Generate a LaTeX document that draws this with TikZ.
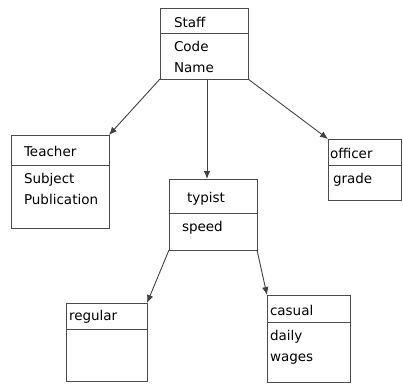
\documentclass[tikz,border=0pt]{standalone}
\usepackage{fontspec}
\setmainfont{DejaVu Sans}
\usetikzlibrary{arrows,arrows.meta,positioning}
\tikzset{font=\fontsize{13.5}{21}\selectfont}
\tikzset{part/.style={draw=black!70, line width=0.9pt, anchor=north west, outer sep=0pt, align=left, inner ysep=0pt}}
\tikzset{head/.style={part, minimum height=#1, text height=13pt, text depth=0pt}}
\tikzset{body/.style={part, inner ysep=7pt, text height=11pt, text depth=#1}}
\tikzset{conn/.style={draw=black!75, line width=0.9pt, -{Latex[length=8pt,width=6.5pt]}}}

\begin{document}
\begin{tikzpicture}[x=1pt,y=-1pt]
\useasboundingbox (0,0) rectangle (403,383);
% base class
\node[head=25pt, text width=60pt, inner xsep=14pt] (staff) at (160,8) {Staff};
\node[body=21pt, text width=60pt, inner xsep=14pt] (staffb) at (staff.south west) {Code\\Name};
% sub classes
\node[head=30pt, text width=72pt, inner xsep=13pt] (teacher) at (11,135) {Teacher};
\node[body=38pt, text width=72pt, inner xsep=13pt] (teacherb) at (teacher.south west) {Subject\\Publication};
\node[head=34pt, text width=52pt, inner xsep=18pt] (typist) at (169,179) {typist};
\node[body=12pt, text width=62pt, inner xsep=13pt] (typistb) at (typist.south west) {speed};
\node[head=26pt, text width=69pt, inner xsep=2pt] (officer) at (328,139) {officer};
\node[body=10pt, text width=63pt, inner xsep=5pt] (officerb) at (officer.south west) {grade};
\node[head=26pt, text width=75pt, inner xsep=3pt, text height=11pt, text depth=2pt] (regular) at (66,303) {regular};
\node[body=27pt, text width=75pt, inner xsep=3pt] (regularb) at (regular.south west) {};
\node[head=27pt, text width=77pt, inner xsep=3pt] (casual) at (267,295) {casual};
\node[body=35pt, text width=77pt, inner xsep=3pt] (casualb) at (casual.south west) {daily\\wages};
% inheritance
\draw[conn] (staffb.south west) -- (teacher.north east);
\draw[conn] ([xshift=3pt]staffb.south) -- ([xshift=3pt]staffb.south |- typist.north);
\draw[conn] (staffb.south east) -- (officer.north west);
\draw[conn] (typistb.south west) -- (regular.north east);
\draw[conn] (typistb.south east) -- (casual.north west);
\end{tikzpicture}
\end{document}
